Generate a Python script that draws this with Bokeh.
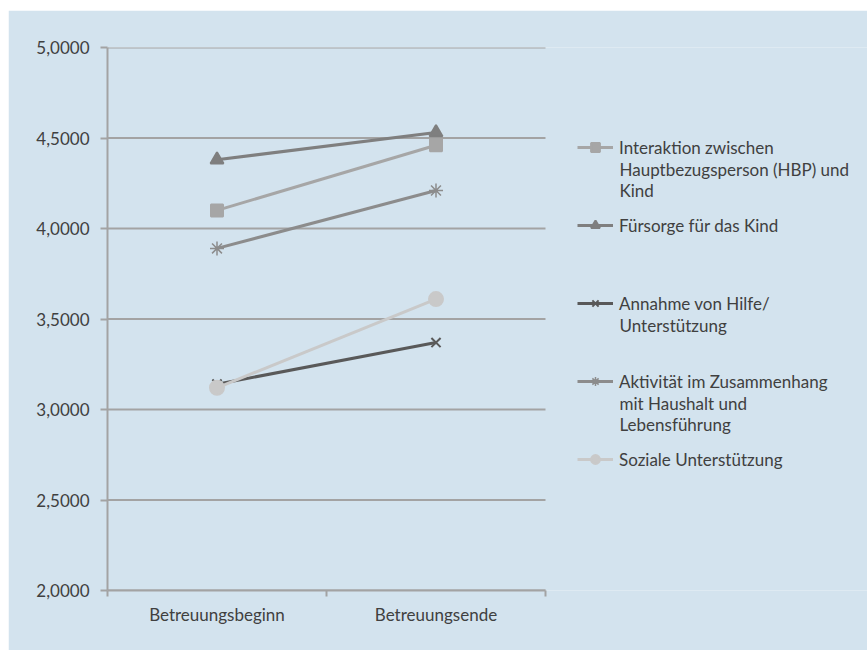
from bokeh.plotting import figure
from bokeh.models import (Range1d, FixedTicker, CustomJSTickFormatter, Legend, LegendItem, Label)
from bokeh.embed import file_html
from bokeh.resources import INLINE

categories = ["Betreuungsbeginn", "Betreuungsende"]
series_names = [
    ["Interaktion zwischen", "Hauptbezugsperson (HBP) und", "Kind"],
    ["Fürsorge für das Kind"],
    ["Annahme von Hilfe/", "Unterstützung"],
    ["Aktivität im Zusammenhang", "mit Haushalt und", "Lebensführung"],
    ["Soziale Unterstützung"],
]
interaktion = [4.10, 4.46]
fuersorge = [4.38, 4.53]
annahme = [3.14, 3.37]
aktivitaet = [3.89, 4.21]
soziale = [3.12, 3.61]
y_ticks = [2.0, 2.5, 3.0, 3.5, 4.0, 4.5, 5.0]

series_values = [interaktion, fuersorge, annahme, aktivitaet, soziale]
colors = ["#a6a6a6", "#7f7f7f", "#595959", "#8c8c8c", "#c9c9c9"]
markers = ["square", "triangle", "x", "asterisk", "circle"]
msizes = [12, 13, 13, 14, 14]
mwidths = [2, 2, 2, 1.5, 2]

BG = "#d3e3ee"
GRID = "#a3a3a3"
FONT = "Lato"
TXT = "#404040"

W, H = 859, 640
LEFT, TOP, BOTTOM, RIGHT = 99, 37, 60, 0
CHART_W = 438          # pixel width of the category area
frame_w = W - LEFT - RIGHT
ncat = len(categories)
xs = [i + 0.5 for i in range(ncat)]

p = figure(width=W, height=H, output_backend="svg", toolbar_location=None,
           x_range=Range1d(0, ncat * frame_w / CHART_W), y_range=Range1d(y_ticks[0], y_ticks[-1]),
           min_border_left=LEFT, min_border_right=RIGHT, min_border_top=TOP, min_border_bottom=BOTTOM)
p.margin = (10, 0, 0, 8)
p.background_fill_color = BG
p.border_fill_color = BG
p.outline_line_color = None
p.xgrid.visible = False
p.ygrid.visible = False

# horizontal gridlines limited to the category area
p.segment(x0=0, x1=ncat, y0=y_ticks, y1=y_ticks, line_color=GRID, line_width=2)

yax = p.yaxis[0]
yax.ticker = FixedTicker(ticks=y_ticks)
yax.formatter = CustomJSTickFormatter(code="return tick.toFixed(4).replace('.', ',');")
yax.axis_line_color = GRID
yax.axis_line_width = 2
yax.major_tick_line_color = GRID
yax.major_tick_line_width = 2
yax.major_tick_out = 7
yax.major_tick_in = 0
yax.minor_tick_line_color = None
yax.major_label_standoff = 11
yax.major_label_text_font = FONT
yax.major_label_text_font_size = "17px"
yax.major_label_text_color = TXT

xax = p.xaxis[0]
xax.bounds = (0, ncat)
xax.ticker = FixedTicker(ticks=xs, minor_ticks=list(range(ncat + 1)))
xax.major_label_overrides = {x: c for x, c in zip(xs, categories)}
xax.axis_line_color = GRID
xax.axis_line_width = 2
xax.major_tick_line_color = None
xax.major_tick_out = 0
xax.major_tick_in = 0
xax.minor_tick_line_color = GRID
xax.minor_tick_line_width = 2
xax.minor_tick_out = 6
xax.minor_tick_in = 0
xax.major_label_standoff = 7
xax.major_label_text_font = FONT
xax.major_label_text_font_size = "17px"
xax.major_label_text_color = TXT

items = []
for name, vals, col, mk, ms, mw in zip(series_names, series_values, colors, markers, msizes, mwidths):
    l = p.line(xs, vals, line_color=col, line_width=3)
    m = p.scatter(xs, vals, marker=mk, size=ms, fill_color=col, line_color=col, line_width=mw)
    items.append(LegendItem(label=name[0], renderers=[l, m]))

# legend layout (screen pixels relative to frame bottom-left)
LEG_X = 470
LINE_H = 22
PITCH = 78
FIRST_LINE = 443      # centre of first legend line above frame bottom
n = len(items)
leg = Legend(items=items, location=(LEG_X, FIRST_LINE + LINE_H / 2 - (n - 1) * PITCH - LINE_H),
             padding=0, margin=0, spacing=PITCH - LINE_H, border_line_color=None,
             background_fill_alpha=0, glyph_width=36, glyph_height=LINE_H,
             label_standoff=6, label_text_font=FONT, label_text_font_size="17px",
             label_text_color=TXT, label_height=LINE_H)
p.add_layout(leg, "center")

for k, name in enumerate(series_names):
    for j, line in enumerate(name[1:], start=1):
        p.add_layout(Label(x=LEG_X + 36 + 6, y=FIRST_LINE - k * PITCH - j * 21.5,
                           x_units="screen", y_units="screen", text=line,
                           text_font=FONT, text_font_size="17px", text_color=TXT,
                           text_baseline="middle", text_align="left"))

open("out.html", "w").write(file_html(p, INLINE))
